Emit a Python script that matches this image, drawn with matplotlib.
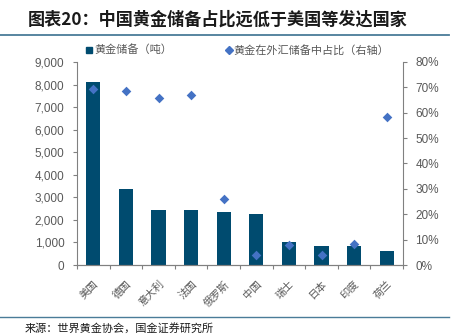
import matplotlib
matplotlib.use("Agg")
import matplotlib.pyplot as plt
from matplotlib.lines import Line2D
from matplotlib.ticker import FuncFormatter, MultipleLocator
from matplotlib.transforms import ScaledTranslation
import numpy as np

plt.rcParams['font.family'] = ['Noto Sans CJK SC', 'DejaVu Sans']

countries = ['美国', '德国', '意大利', '法国', '俄罗斯', '中国', '瑞士', '日本', '印度', '荷兰']
reserves = [8133, 3370, 2452, 2436, 2350, 2250, 1040, 846, 850, 612]
share = [69.5, 68.7, 65.8, 66.9, 26.0, 4.1, 7.9, 4.1, 8.4, 58.2]
legend_labels = ['黄金储备（吨）', '黄金在外汇储备中占比（右轴）']

bar_color = '#004B6F'
dot_color = '#4472C4'
grey = '#595959'
spine_c = '#808080'

W, H = 459, 334
fig = plt.figure(figsize=(W/100, H/100), dpi=100)
ax = fig.add_axes([77/W, 1-265/H, (403-77)/W, (265-62)/H])
x = np.arange(len(countries))
ax.bar(x, reserves, width=0.43, color=bar_color, zorder=2)
ax.set_xlim(-0.5, len(countries)-0.5)
ax.set_ylim(0, 9000)
ax.yaxis.set_major_locator(MultipleLocator(1000))
ax.yaxis.set_major_formatter(FuncFormatter(lambda v, p: f'{int(v):,}'))

ax2 = ax.twinx()
ax2.scatter(x, share, marker='D', s=24, color=dot_color, zorder=3, linewidths=0)
ax2.set_ylim(0, 80)
ax2.yaxis.set_major_locator(MultipleLocator(10))
ax2.yaxis.set_major_formatter(FuncFormatter(lambda v, p: f'{int(v)}%'))

for a in (ax, ax2):
    a.spines['top'].set_visible(False)
    for s in ('left', 'right', 'bottom'):
        a.spines[s].set_color(spine_c)
        a.spines[s].set_linewidth(0.8)
    a.tick_params(axis='y', colors=spine_c, labelcolor=grey, labelsize=8.5, length=3, width=0.8, pad=6)
    for lab in a.get_yticklabels():
        lab.set_family(['Liberation Sans', 'DejaVu Sans'])
ax2.spines['left'].set_visible(False)
ax.spines['right'].set_visible(False)

ax.set_xticks(x)
ax.set_xticklabels(countries, rotation=45, ha='right', rotation_mode='anchor', fontsize=7.5, color=grey)
offset = ScaledTranslation(4/100, 0, fig.dpi_scale_trans)
for lab in ax.get_xticklabels():
    lab.set_transform(lab.get_transform() + offset)
ax.set_xticks(np.arange(-0.5, len(countries), 1), minor=True)
ax.tick_params(axis='x', which='major', length=0, pad=10)
ax.tick_params(axis='x', which='minor', length=3, width=0.8, color=spine_c)

# Legend (manually placed)
ly = 1 - 50/H
fig.add_artist(Line2D([88.5/W], [ly], marker='s', markersize=4.3, color=bar_color, linestyle='none'))
fig.text(94/W, ly, legend_labels[0], fontsize=8, color=grey, va='center', ha='left')
fig.add_artist(Line2D([229/W], [ly], marker='D', markersize=3.6, color=dot_color, linestyle='none'))
fig.text(233/W, ly, legend_labels[1], fontsize=8, color=grey, va='center', ha='left')

# Title and rules
fig.text(28/W, 1-20/H, '图表20：中国黄金储备占比远低于美国等发达国家', fontsize=12.3, fontweight='bold',
         color='#1a1a1a', va='center', ha='left', style='italic')
fig.add_artist(Line2D([0, 449/W], [1-35/H, 1-35/H], color='#4A7C98', linewidth=1.3))
fig.add_artist(Line2D([0, 449/W], [1-317/H, 1-317/H], color='#4A7C98', linewidth=1.0))
fig.text(25/W, 1-328/H, '来源：世界黄金协会，国金证券研究所', fontsize=8, color='#1a1a1a', va='center', ha='left')

fig.savefig('out.png', dpi=100)
